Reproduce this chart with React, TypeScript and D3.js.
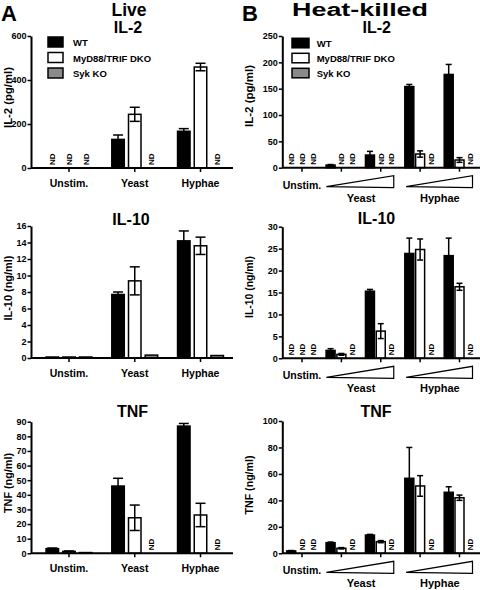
import React, { useEffect, useRef } from "react";
import * as d3 from "d3";

const FONT = "'Liberation Sans', Arial, Helvetica, sans-serif";

const seriesNames = ["WT", "MyD88/TRIF DKO", "Syk KO"];
const seriesFill = ["#000000", "#ffffff", "#8a8a8a"];

const groupsLive = ["Unstim.", "Yeast", "Hyphae"];
const groupsHK = ["Unstim.", "Yeast low", "Yeast high", "Hyphae low", "Hyphae high"];

type V = number | null; // null = ND (not detected)

// ---- Live, IL-2 (pg/ml)
const liveIL2WT: V[] = [null, 130, 167];
const liveIL2WTErr = [0, 20, 12];
const liveIL2DKO: V[] = [null, 244, 459];
const liveIL2DKOErr = [0, 32, 17];
const liveIL2Syk: V[] = [null, null, null];
const liveIL2SykErr = [0, 0, 0];
const liveIL2Ticks = [0, 200, 400, 600];

// ---- Live, IL-10 (ng/ml)
const liveIL10WT: V[] = [0.12, 7.7, 14.2];
const liveIL10WTErr = [0, 0.3, 1.2];
const liveIL10DKO: V[] = [0.12, 9.35, 13.6];
const liveIL10DKOErr = [0, 1.7, 1.05];
const liveIL10Syk: V[] = [0.12, 0.35, 0.3];
const liveIL10SykErr = [0, 0, 0];
const liveIL10Ticks = [0, 2, 4, 6, 8, 10, 12, 14, 16];

// ---- Live, TNF (ng/ml)
const liveTNFWT: V[] = [3.2, 46, 87];
const liveTNFWTErr = [0.4, 5.3, 1.8];
const liveTNFDKO: V[] = [1.3, 24.3, 26.2];
const liveTNFDKOErr = [0.3, 8.7, 8];
const liveTNFSyk: V[] = [0.5, null, null];
const liveTNFSykErr = [0, 0, 0];
const liveTNFTicks = [0, 10, 20, 30, 40, 50, 60, 70, 80, 90];

// ---- Heat-killed, IL-2 (pg/ml)
const hkIL2WT: V[] = [null, 5, 24, 154, 177];
const hkIL2WTErr = [0, 1, 7, 4, 19];
const hkIL2DKO: V[] = [null, null, null, 26, 14.6];
const hkIL2DKOErr = [0, 0, 0, 6, 4.5];
const hkIL2Syk: V[] = [null, null, null, null, null];
const hkIL2SykErr = [0, 0, 0, 0, 0];
const hkIL2Ticks = [0, 50, 100, 150, 200, 250];

// ---- Heat-killed, IL-10 (ng/ml)
const hkIL10WT: V[] = [null, 1.8, 15.3, 23.9, 23.4];
const hkIL10WTErr = [0, 0.4, 0.4, 3.5, 4];
const hkIL10DKO: V[] = [null, 0.9, 6.2, 24.8, 16.3];
const hkIL10DKOErr = [0, 0.2, 1.7, 2.4, 0.8];
const hkIL10Syk: V[] = [null, null, null, null, null];
const hkIL10SykErr = [0, 0, 0, 0, 0];
const hkIL10Ticks = [0, 5, 10, 15, 20, 25, 30];

// ---- Heat-killed, TNF (ng/ml)
const hkTNFWT: V[] = [1.8, 8, 13.8, 56.7, 46.1];
const hkTNFWTErr = [0.3, 0.5, 0.5, 23.3, 4.2];
const hkTNFDKO: V[] = [null, 3.8, 8.8, 50.9, 42];
const hkTNFDKOErr = [0, 0.5, 0.8, 7.8, 2];
const hkTNFSyk: V[] = [null, null, null, null, null];
const hkTNFSykErr = [0, 0, 0, 0, 0];
const hkTNFTicks = [0, 20, 40, 60, 80, 100];

type PanelProps = {
  mode: "live" | "hk";
  groups: string[];
  centerRange: [number, number];
  barStep: number;
  barW: number;
  capW: number;
  axisX: number;
  axisEnd: number;
  y0: number;
  yTop: number;
  yMax: number;
  ticks: number[];
  values: V[][];
  errors: number[][];
  title: string;
  titleX: number;
  titleY: number;
  yLabel: string;
  yLabelX: number;
  yLabelY: number;
  yLabelLen: number;
  legend?: { x: number; y: number; w: number; h: number; gap: number; textX: number };
};

function Panel(p: PanelProps) {
  const axisRef = useRef<SVGGElement>(null);
  const y = d3.scaleLinear().domain([0, p.yMax]).range([p.y0, p.yTop]);
  const x = d3.scalePoint<string>().domain(p.groups).range(p.centerRange);

  useEffect(() => {
    if (!axisRef.current) return;
    const g = d3.select(axisRef.current);
    g.selectAll("*").remove();
    g.call(
      d3
        .axisLeft(y)
        .tickValues(p.ticks)
        .tickSize(3.5)
        .tickSizeOuter(0)
        .tickPadding(1)
        .tickFormat(d3.format("d"))
    );
    g.select(".domain").attr("stroke", "#000").attr("stroke-width", 2);
    g.selectAll(".tick line").attr("stroke", "#000").attr("stroke-width", 1.5);
    g.selectAll(".tick text")
      .attr("font-family", FONT)
      .attr("font-size", 9)
      .attr("font-weight", "bold")
      .attr("fill", "#000");
  }, []);

  const marks: React.ReactNode[] = [];
  p.groups.forEach((gname, gi) => {
    const gc = x(gname) as number;
    [0, 1, 2].forEach((si) => {
      const cx = gc + (si - 1) * p.barStep;
      const v = p.values[si][gi];
      const e = p.errors[si][gi];
      if (v === null) {
        marks.push(
          <text
            key={`nd${gi}-${si}`}
            transform={`translate(${cx + 2.9},${p.y0 - 3}) rotate(-90)`}
            fontFamily={FONT}
            fontSize={8}
            fontWeight="bold"
          >
            ND
          </text>
        );
        return;
      }
      const top = y(v);
      marks.push(
        <rect
          key={`b${gi}-${si}`}
          x={cx - p.barW / 2}
          y={top}
          width={p.barW}
          height={Math.max(p.y0 - top, 0.5)}
          fill={seriesFill[si]}
          stroke="#000"
          strokeWidth={1.5}
        />
      );
      if (e > 0) {
        const ya = y(v + e);
        const yb = y(Math.max(v - e, 0));
        marks.push(
          <g key={`e${gi}-${si}`} stroke="#000" strokeWidth={1.5}>
            <line x1={cx} x2={cx} y1={ya} y2={yb} />
            <line x1={cx - p.capW / 2} x2={cx + p.capW / 2} y1={ya} y2={ya} />
            <line x1={cx - p.capW / 2} x2={cx + p.capW / 2} y1={yb} y2={yb} />
          </g>
        );
      }
    });
  });

  const xTicks = p.groups.map((gname) => {
    const gc = x(gname) as number;
    return <line key={`xt${gname}`} x1={gc} x2={gc} y1={p.y0} y2={p.y0 + 4} stroke="#000" strokeWidth={1.5} />;
  });

  let xLabels: React.ReactNode = null;
  if (p.mode === "live") {
    xLabels = p.groups.map((gname) => (
      <text
        key={`xl${gname}`}
        x={x(gname) as number}
        y={p.y0 + 18.5}
        textAnchor="middle"
        fontFamily={FONT}
        fontSize={10.5}
        fontWeight="bold"
      >
        {gname}
      </text>
    ));
  } else {
    const c = p.groups.map((g) => x(g) as number);
    const wTop = p.y0 + 8;
    const wBot = p.y0 + 20;
    const wedge = (a: number, b: number) =>
      `M${a},${wBot - 1} L${b},${wTop} L${b},${wBot} Z`;
    xLabels = (
      <g>
        <text x={c[0]} y={p.y0 + 21} textAnchor="middle" fontFamily={FONT} fontSize={10.5} fontWeight="bold">
          Unstim.
        </text>
        <path d={wedge(c[1] - 15, c[2] + 13)} fill="#fff" stroke="#000" strokeWidth={1.2} />
        <path d={wedge(c[3] - 14, c[4] + 13)} fill="#fff" stroke="#000" strokeWidth={1.2} />
        <text x={(c[1] + c[2]) / 2} y={p.y0 + 34} textAnchor="middle" fontFamily={FONT} fontSize={11} fontWeight="bold">
          Yeast
        </text>
        <text x={(c[3] + c[4]) / 2} y={p.y0 + 34} textAnchor="middle" fontFamily={FONT} fontSize={11} fontWeight="bold">
          Hyphae
        </text>
      </g>
    );
  }

  let legend: React.ReactNode = null;
  if (p.legend) {
    const L = p.legend;
    legend = (
      <g>
        {seriesNames.map((s, i) => (
          <g key={s}>
            <rect
              x={L.x}
              y={L.y + i * L.gap}
              width={L.w}
              height={L.h}
              fill={seriesFill[i]}
              stroke="#000"
              strokeWidth={1.5}
            />
            <text x={L.textX} y={L.y + i * L.gap + L.h - 1} fontFamily={FONT} fontSize={9.5} fontWeight="bold">
              {s}
            </text>
          </g>
        ))}
      </g>
    );
  }

  return (
    <g>
      <text x={p.titleX} y={p.titleY} textAnchor="middle" fontFamily={FONT} fontSize={16} fontWeight="bold">
        {p.title}
      </text>
      <text
        transform={`translate(${p.yLabelX},${p.yLabelY}) rotate(-90)`}
        textAnchor="middle"
        fontFamily={FONT}
        fontSize={11.5}
        fontWeight="bold"
        textLength={p.yLabelLen}
        lengthAdjust="spacingAndGlyphs"
      >
        {p.yLabel}
      </text>
      {marks}
      <line x1={p.axisX} x2={p.axisEnd} y1={p.y0} y2={p.y0} stroke="#000" strokeWidth={2} />
      {xTicks}
      <g ref={axisRef} transform={`translate(${p.axisX},0)`} />
      {xLabels}
      {legend}
    </g>
  );
}

const liveCommon = {
  mode: "live" as const,
  groups: groupsLive,
  centerRange: [69, 200.5] as [number, number],
  barStep: 16.7,
  barW: 12.5,
  capW: 10,
  axisX: 31,
  axisEnd: 233,
  yLabelX: 11.5,
};

const hkCommon = {
  mode: "hk" as const,
  groups: groupsHK,
  centerRange: [302, 459.5] as [number, number],
  barStep: 10.8,
  barW: 9,
  capW: 6,
  axisX: 282.3,
  axisEnd: 480,
  yLabelX: 253,
};

export default function App() {
  return (
    <svg
      width={480}
      height={590}
      viewBox="0 0 480 590"
      style={{ position: "absolute", left: 0, top: 0, background: "#fff" }}
    >
      <rect x={0} y={0} width={480} height={590} fill="#fff" />
      <text x={1} y={20.5} fontFamily={FONT} fontSize={22} fontWeight="bold">A</text>
      <text x={242} y={20.5} fontFamily={FONT} fontSize={22} fontWeight="bold">B</text>
      <text x={129} y={16} textAnchor="middle" fontFamily={FONT} fontSize={17.5} fontWeight="bold">Live</text>
      <text
        x={360}
        y={16}
        textAnchor="middle"
        fontFamily={FONT}
        fontSize={17.5}
        fontWeight="bold"
        textLength={136}
        lengthAdjust="spacingAndGlyphs"
      >
        Heat-killed
      </text>

      <Panel
        {...liveCommon}
        y0={168}
        yTop={36}
        yMax={600}
        ticks={liveIL2Ticks}
        values={[liveIL2WT, liveIL2DKO, liveIL2Syk]}
        errors={[liveIL2WTErr, liveIL2DKOErr, liveIL2SykErr]}
        title="IL-2"
        titleX={128}
        titleY={33}
        yLabel="IL-2 (pg/ml)"
        yLabelY={97.5}
        yLabelLen={61}
        legend={{ x: 48, y: 37, w: 15, h: 10, gap: 15.5, textX: 73 }}
      />
      <Panel
        {...liveCommon}
        y0={358}
        yTop={226}
        yMax={16}
        ticks={liveIL10Ticks}
        values={[liveIL10WT, liveIL10DKO, liveIL10Syk]}
        errors={[liveIL10WTErr, liveIL10DKOErr, liveIL10SykErr]}
        title="IL-10"
        titleX={131}
        titleY={224.5}
        yLabel="IL-10 (ng/ml)"
        yLabelY={288}
        yLabelLen={65}
      />
      <Panel
        {...liveCommon}
        y0={553.3}
        yTop={421.7}
        yMax={90}
        ticks={liveTNFTicks}
        values={[liveTNFWT, liveTNFDKO, liveTNFSyk]}
        errors={[liveTNFWTErr, liveTNFDKOErr, liveTNFSykErr]}
        title="TNF"
        titleX={132.5}
        titleY={417}
        yLabel="TNF (ng/ml)"
        yLabelY={483}
        yLabelLen={60}
      />

      <Panel
        {...hkCommon}
        y0={167.7}
        yTop={36}
        yMax={250}
        ticks={hkIL2Ticks}
        values={[hkIL2WT, hkIL2DKO, hkIL2Syk]}
        errors={[hkIL2WTErr, hkIL2DKOErr, hkIL2SykErr]}
        title="IL-2"
        titleX={376.7}
        titleY={33}
        yLabel="IL-2 (pg/ml)"
        yLabelY={96}
        yLabelLen={62}
        legend={{ x: 292, y: 38.3, w: 17, h: 9.5, gap: 15, textX: 316.7 }}
      />
      <Panel
        {...hkCommon}
        y0={358.3}
        yTop={226.7}
        yMax={30}
        ticks={hkIL10Ticks}
        values={[hkIL10WT, hkIL10DKO, hkIL10Syk]}
        errors={[hkIL10WTErr, hkIL10DKOErr, hkIL10SykErr]}
        title="IL-10"
        titleX={376.5}
        titleY={224}
        yLabel="IL-10 (ng/ml)"
        yLabelY={287}
        yLabelLen={62}
      />
      <Panel
        {...hkCommon}
        y0={553.3}
        yTop={421}
        yMax={100}
        ticks={hkTNFTicks}
        values={[hkTNFWT, hkTNFDKO, hkTNFSyk]}
        errors={[hkTNFWTErr, hkTNFDKOErr, hkTNFSykErr]}
        title="TNF"
        titleX={376}
        titleY={416.7}
        yLabel="TNF (ng/ml)"
        yLabelY={485}
        yLabelLen={59}
      />
    </svg>
  );
}
